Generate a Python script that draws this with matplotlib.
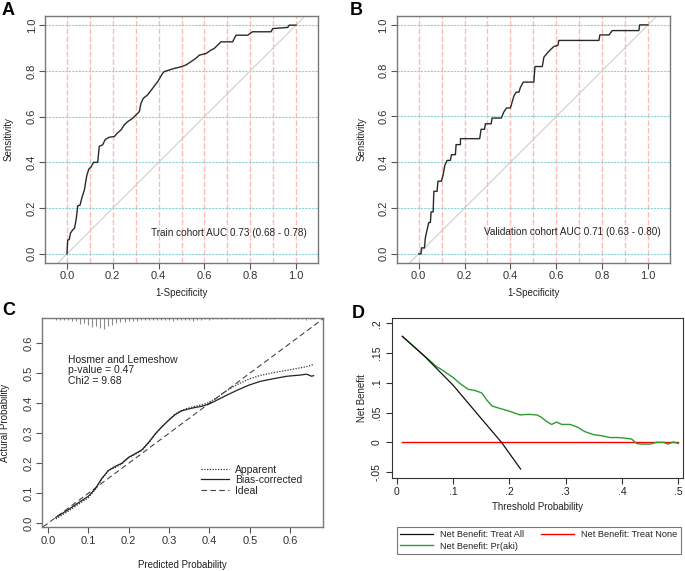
import matplotlib
matplotlib.use('Agg')
import matplotlib.pyplot as plt
import numpy as np

plt.rcParams['font.family'] = ['Liberation Sans', 'DejaVu Sans']

# ---- data ----
# A: train cohort ROC
rocA_fpr = [0, 0.003, 0.01, 0.015, 0.025, 0.033, 0.04, 0.047, 0.057, 0.065, 0.076, 0.086, 0.095, 0.105,
            0.116, 0.134, 0.141, 0.156, 0.167, 0.185, 0.207, 0.22, 0.236, 0.25, 0.265, 0.287, 0.301,
            0.316, 0.323, 0.333, 0.352, 0.374, 0.396, 0.418, 0.425, 0.447, 0.469, 0.498, 0.52, 0.541,
            0.563, 0.578, 0.607, 0.629, 0.643, 0.672, 0.723, 0.738, 0.789, 0.81, 0.891, 0.898, 0.964,
            0.97, 1.0]
rocA_tpr = [0, 0.06, 0.063, 0.09, 0.105, 0.112, 0.15, 0.21, 0.213, 0.245, 0.28, 0.34, 0.37, 0.38,
            0.40, 0.40, 0.47, 0.477, 0.50, 0.51, 0.513, 0.528, 0.542, 0.564, 0.578, 0.593, 0.607,
            0.622, 0.658, 0.68, 0.695, 0.724, 0.753, 0.79, 0.797, 0.804, 0.811, 0.818, 0.826, 0.84,
            0.855, 0.869, 0.876, 0.891, 0.898, 0.927, 0.927, 0.956, 0.956, 0.971, 0.971, 0.985, 0.99,
            1.0, 1.0]
aucA = 'Train cohort AUC 0.73 (0.68 - 0.78)'

# B: validation cohort ROC
rocB_fpr = [0, 0.01, 0.012, 0.025, 0.029, 0.036, 0.044, 0.051, 0.054, 0.063, 0.066, 0.08, 0.084, 0.099,
            0.106, 0.114, 0.124, 0.138, 0.143, 0.16, 0.163, 0.182, 0.182, 0.266, 0.272, 0.287, 0.291,
            0.316, 0.32, 0.36, 0.371, 0.383, 0.4, 0.415, 0.425, 0.437, 0.444, 0.456, 0.502, 0.507,
            0.539, 0.546, 0.56, 0.575, 0.59, 0.607, 0.611, 0.786, 0.79, 0.83, 0.844, 0.96, 0.964, 1.0]
rocB_tpr = [0, 0, 0.026, 0.026, 0.07, 0.103, 0.137, 0.137, 0.183, 0.183, 0.273, 0.273, 0.317, 0.317,
            0.343, 0.387, 0.408, 0.408, 0.433, 0.433, 0.477, 0.477, 0.503, 0.503, 0.544, 0.544, 0.568,
            0.568, 0.593, 0.593, 0.619, 0.637, 0.637, 0.689, 0.706, 0.706, 0.728, 0.75, 0.75, 0.818,
            0.818, 0.859, 0.876, 0.892, 0.906, 0.91, 0.932, 0.932, 0.956, 0.956, 0.975, 0.975, 1.0, 1.0]
aucB = 'Validation cohort AUC 0.71 (0.63 - 0.80)'

# C: calibration
cal_x = [0.02, 0.05, 0.075, 0.1, 0.117, 0.134, 0.15, 0.167, 0.183, 0.2, 0.216, 0.233, 0.25, 0.266,
         0.282, 0.299, 0.315, 0.332, 0.348, 0.365, 0.381, 0.398, 0.418, 0.443, 0.468, 0.497, 0.526,
         0.559, 0.592, 0.625, 0.641, 0.653, 0.658]
cal_bias = [0.02, 0.045, 0.068, 0.09, 0.114, 0.15, 0.176, 0.19, 0.2, 0.22, 0.232, 0.245, 0.27, 0.298,
            0.321, 0.343, 0.362, 0.375, 0.381, 0.386, 0.39, 0.397, 0.41, 0.427, 0.443, 0.46, 0.473,
            0.482, 0.49, 0.494, 0.497, 0.49, 0.492]
cal_app = [0.015, 0.04, 0.063, 0.085, 0.112, 0.148, 0.176, 0.186, 0.198, 0.218, 0.23, 0.243, 0.268,
           0.297, 0.321, 0.344, 0.364, 0.377, 0.384, 0.39, 0.395, 0.402, 0.418, 0.442, 0.462, 0.48,
           0.493, 0.502, 0.51, 0.518, 0.522, 0.527, 0.53]
rug_x = [round(0.02 + 0.01 * i, 2) for i in range(65)]
rug_h = [2, 2, 2, 2, 3, 3, 6, 5, 7, 9, 8, 10, 11, 8, 7, 5, 4, 4, 3, 3, 3, 2, 2, 2, 2, 2, 2, 2, 2, 3,
         2, 2, 2, 2, 3, 2, 2, 1, 2, 1, 1, 1, 1, 0, 1, 1, 1, 1, 1, 1, 0, 1, 1, 1, 1, 0, 0, 1, 1, 1,
         1, 1, 2, 1, 1]
hl_text = 'Hosmer and Lemeshow\np-value = 0.47\nChi2 = 9.68'

# D: decision curve
all_t = [0.01, 0.05, 0.1, 0.15, 0.186, 0.22]
all_nb = [0.178, 0.144, 0.096, 0.04, 0.0, -0.045]
none_t = [0.01, 0.5]
none_nb = [0, 0]
aki_t = [0.01, 0.071, 0.08, 0.089, 0.1, 0.112, 0.127, 0.139, 0.151, 0.16, 0.169, 0.183, 0.201, 0.219,
         0.234, 0.249, 0.257, 0.266, 0.275, 0.284, 0.293, 0.308, 0.322, 0.334, 0.349, 0.364, 0.379,
         0.393, 0.405, 0.417, 0.426, 0.435, 0.45, 0.462, 0.473, 0.482, 0.491, 0.5]
aki_nb = [0.178, 0.127, 0.122, 0.116, 0.109, 0.099, 0.089, 0.087, 0.083, 0.071, 0.061, 0.057, 0.052,
          0.046, 0.047, 0.046, 0.042, 0.035, 0.030, 0.034, 0.030, 0.030, 0.025, 0.018, 0.013, 0.011,
          0.008, 0.008, 0.007, 0.0056, -0.002, -0.003, -0.003, 0.0, 0.0, -0.003, 0.0006, -0.002]

W, H = 685, 571
fig = plt.figure(figsize=(6.85, 5.71), dpi=100)


def px_axes(x0, y0, x1, y1):
    return fig.add_axes([x0 / W, 1 - y1 / H, (x1 - x0) / W, (y1 - y0) / H])


def r_style(ax):
    for s in ax.spines.values():
        s.set_color('#777777')
        s.set_linewidth(1.0)
    ax.tick_params(direction='out', length=4, width=0.8, color='#555555',
                   labelsize=8, labelcolor='#333333', pad=2)
    for lab in ax.get_yticklabels():
        lab.set_rotation(90)
        lab.set_va('center')


def roc_panel(ax, fpr, tpr, label, tx, ty):
    ax.set_xlim(-0.096, 1.096)
    ax.set_ylim(-0.04, 1.04)
    for v in np.arange(0, 1.01, 0.1):
        ax.axvline(v, color='#FBBDB5', lw=1.0, ls=(0, (4, 1.5)), zorder=1)
    for h in np.arange(0, 1.01, 0.2):
        ax.axhline(h, color='#8ED2D2', lw=0.8, ls=(0, (2, 1)), zorder=1)
    ax.plot([-0.2, 1.2], [-0.2, 1.2], color='#CFCFCF', lw=0.8, zorder=2)
    ax.plot(fpr, tpr, color='#2A2A2A', lw=1.0, zorder=3)
    ax.set_xticks(np.arange(0, 1.01, 0.2))
    ax.set_yticks(np.arange(0, 1.01, 0.2))
    ax.set_xticklabels(['%.1f' % v for v in np.arange(0, 1.01, 0.2)])
    ax.set_yticklabels(['%.1f' % v for v in np.arange(0, 1.01, 0.2)])
    r_style(ax)
    ax.text(tx, ty, label, fontsize=7.2, color='#222222', ha='left', va='center')
    ax.set_xlabel('1-Specificity', fontsize=7, color='#222222')
    ax.set_ylabel('Sensitivity', fontsize=7, color='#222222')
    ax.xaxis.set_label_coords(0.5, -0.101)


# A
axA = px_axes(45, 16, 318, 263)
roc_panel(axA, rocA_fpr, rocA_tpr, aucA, 0.367, 0.092)
axA.yaxis.set_label_coords(-0.114, 0.5)
# B
axB = px_axes(396.7, 15.7, 670, 263)
roc_panel(axB, rocB_fpr, rocB_tpr, aucB, 0.284, 0.096)
axB.yaxis.set_label_coords(-0.11, 0.5)

# C
axC = px_axes(41.7, 318.3, 323.3, 527.3)
axC.set_xlim(-0.015, 0.682)
axC.set_ylim(-0.013, 0.683)
axC.plot([-0.1, 0.8], [-0.1, 0.8], color='#444444', lw=0.8, ls=(0, (5, 3)))
axC.plot(cal_x, cal_app, color='#333333', lw=0.9, ls=(0, (1, 1.2)))
axC.plot(cal_x, cal_bias, color='#222222', lw=0.9)
axC.vlines(rug_x, [1 - h / 209.0 for h in rug_h], 1, color='#8A8A8A', lw=0.8,
           transform=axC.get_xaxis_transform())
axC.set_xticks(np.arange(0, 0.61, 0.1))
axC.set_yticks(np.arange(0, 0.61, 0.1))
axC.set_xticklabels(['%.1f' % v for v in np.arange(0, 0.61, 0.1)])
axC.set_yticklabels(['%.1f' % v for v in np.arange(0, 0.61, 0.1)])
r_style(axC)
axC.text(0.051, 0.562, hl_text, fontsize=7.5, color='#222222', ha='left', va='top', linespacing=1.1)
legC = axC.legend([axC.lines[1], axC.lines[2], axC.lines[0]], ['Apparent', 'Bias-corrected', 'Ideal'],
                  loc='upper left', bbox_to_anchor=(0.54, 0.335), frameon=False, fontsize=7.5,
                  handlelength=2.7, handletextpad=0.6, labelspacing=0.05, borderpad=0.2)
for t in legC.get_texts():
    t.set_color('#222222')
axC.set_xlabel('Predicted Probability', fontsize=7, color='#222222')
axC.set_ylabel('Actural Probability', fontsize=7, color='#222222')
axC.xaxis.set_label_coords(0.5, -0.156)
axC.yaxis.set_label_coords(-0.113, 0.5)

# D
axD = px_axes(391.7, 318.3, 683.3, 477.7)
axD.set_xlim(-0.009, 0.509)
axD.set_ylim(-0.0595, 0.2084)
lA, = axD.plot(all_t, all_nb, color='#111111', lw=0.9, zorder=3)
lN, = axD.plot(none_t, none_nb, color='#FF0000', lw=1.0, zorder=2)
lP, = axD.plot(aki_t, aki_nb, color='#2F9A2F', lw=1.0, zorder=2)
axD.set_xticks([0, 0.1, 0.2, 0.3, 0.4, 0.5])
axD.set_xticklabels(['0', '.1', '.2', '.3', '.4', '.5'])
axD.set_yticks([-0.05, 0, 0.05, 0.1, 0.15, 0.2])
axD.set_yticklabels(['-.05', '0', '.05', '.1', '.15', '.2'])
for s in axD.spines.values():
    s.set_color('#333333')
    s.set_linewidth(0.8)
axD.tick_params(direction='out', length=4, width=0.8, color='#333333',
                labelsize=7.5, labelcolor='#222222', pad=3)
for lab in axD.get_yticklabels():
    lab.set_rotation(90)
    lab.set_va('center')
axD.set_xlabel('Threshold Probability', fontsize=7, color='#222222')
axD.set_ylabel('Net Benefit', fontsize=7, color='#222222')
axD.xaxis.set_label_coords(0.5, -0.152)
axD.yaxis.set_label_coords(-0.086, 0.5)
legD = fig.legend([lA, lP, lN], ['Net Benefit: Treat All', 'Net Benefit: Pr(aki)', 'Net Benefit: Treat None'],
                  ncol=2, loc='center', bbox_to_anchor=(538.7 / W, 1 - 540.5 / H),
                  fontsize=6.6, frameon=True, fancybox=False,
                  handlelength=3.6, handletextpad=0.75, labelspacing=0.25, borderpad=0.4,
                  columnspacing=1.8)
legD.get_frame().set_edgecolor('#555555')
legD.get_frame().set_linewidth(0.8)
for t in legD.get_texts():
    t.set_color('#222222')

# panel letters
for lbl, x, y in [('A', 2, 2), ('B', 350, 2), ('C', 2, 302), ('D', 352, 305)]:
    fig.text(x / W, 1 - y / H, lbl, fontsize=13, fontweight='bold', ha='left', va='top')

fig.savefig('out.png', dpi=100)
